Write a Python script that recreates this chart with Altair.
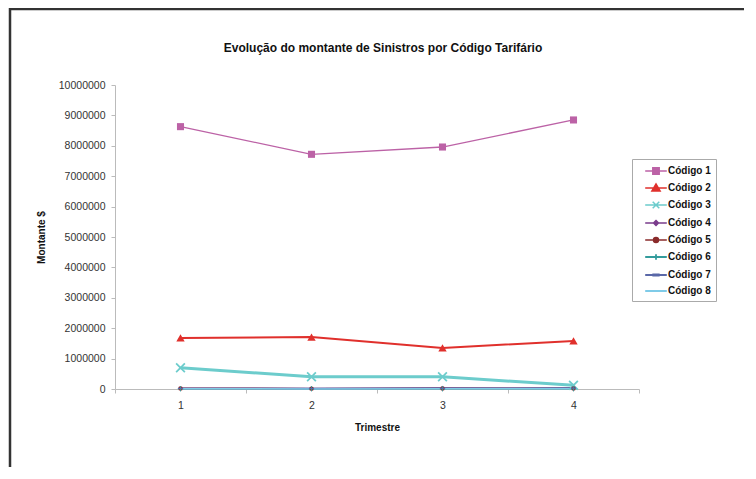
import altair as alt
import pandas as pd

trimestres = ["1", "2", "3", "4"]
codigos = ["Código 1", "Código 2", "Código 3", "Código 4",
           "Código 5", "Código 6", "Código 7", "Código 8"]

cod1 = [8630000, 7720000, 7960000, 8850000]
cod2 = [1680000, 1710000, 1350000, 1580000]
cod3 = [700000, 400000, 400000, 120000]
cod4 = [25000, 20000, 30000, 22000]
cod5 = [15000, 12000, 18000, 14000]
cod6 = [8000, 6000, 9000, 7000]
cod7 = [20000, 18000, 25000, 30000]
cod8 = [5000, 4000, 6000, 5000]
series = [cod1, cod2, cod3, cod4, cod5, cod6, cod7, cod8]

y_ticks = [0, 1000000, 2000000, 3000000, 4000000, 5000000,
           6000000, 7000000, 8000000, 9000000, 10000000]

colors = ["#BC62A6", "#E0302C", "#6CCCCC", "#7A3C8C",
          "#8A2B2B", "#339C9C", "#5A68A8", "#7FCBE8"]
widths = [1.3, 2, 3, 1.5, 1.5, 1.5, 1.5, 1.5]

X_PATH = ("M-1,-0.75L-0.75,-1L0,-0.25L0.75,-1L1,-0.75L0.25,0L1,0.75L0.75,1"
          "L0,0.25L-0.75,1L-1,0.75L-0.25,0Z")
PLUS_PATH = ("M-1,-0.15L-0.15,-0.15L-0.15,-1L0.15,-1L0.15,-0.15L1,-0.15L1,0.15"
             "L0.15,0.15L0.15,1L-0.15,1L-0.15,0.15L-1,0.15Z")
DASH_PATH = "M-1,-0.25L1,-0.25L1,0.25L-1,0.25Z"
marker_shapes = ["square", "triangle-up", X_PATH, "diamond", "circle", PLUS_PATH, DASH_PATH, None]
marker_sizes = [50, 70, 100, 20, 20, 30, 25, 0]

LINE = "M-1.8,0L1.8,0"
legend_paths = [
    LINE + "M-0.55,-0.55L0.55,-0.55L0.55,0.55L-0.55,0.55Z",
    LINE + "M0,-0.7L0.7,0.5L-0.7,0.5Z",
    LINE + "M-0.55,-0.55L0.55,0.55M-0.55,0.55L0.55,-0.55",
    LINE + "M0,-0.4L0.4,0L0,0.4L-0.4,0Z",
    LINE + "M-0.4,0A0.4,0.4,0,1,0,0.4,0A0.4,0.4,0,1,0,-0.4,0Z",
    LINE + "M0,-0.45L0,0.45",
    LINE + "M-0.45,-0.1L0.45,-0.1L0.45,0.1L-0.45,0.1Z",
    LINE,
]

rows = []
for c, vals in zip(codigos, series):
    for t, v in zip(trimestres, vals):
        rows.append({"Serie": c, "Trimestre": t, "Montante": v})
df = pd.DataFrame(rows)

FONT = "Liberation Sans"

x_enc = alt.X(
    "Trimestre:O", sort=trimestres, bandPosition=0.5,
    scale=alt.Scale(type="band", paddingInner=0, paddingOuter=0),
    axis=alt.Axis(labelAngle=0, tickBand="extent", tickSize=4, labelPadding=7,
                  titlePadding=12, labelFontSize=10.5, titleFontSize=10,
                  titleFontWeight="bold"),
    title="Trimestre",
)
y_enc = alt.Y(
    "Montante:Q",
    scale=alt.Scale(domain=[0, 10000000], nice=False),
    axis=alt.Axis(values=y_ticks, format="d", tickSize=4, labelPadding=6,
                  titlePadding=12, labelFontSize=10.5, titleFontSize=10,
                  titleFontWeight="bold"),
    title="Montante $",
)

base = alt.Chart(df)

lines = []
markers = []
for c, col, w, shp, sz in zip(codigos, colors, widths, marker_shapes, marker_sizes):
    sub = base.transform_filter(alt.datum.Serie == c)
    lines.append(sub.mark_line(color=col, strokeWidth=w).encode(x=x_enc, y=y_enc))
    if shp is not None:
        markers.append(
            sub.mark_point(filled=True, shape=shp, size=sz, color=col, opacity=1)
            .encode(x=x_enc, y=y_enc)
        )

leg = alt.Legend(
    title=None, orient="none", legendX=517, legendY=74, direction="vertical",
    strokeColor="#AAAAAA", fillColor="white", padding=5, rowPadding=4,
    labelFont=FONT, labelFontSize=10, labelFontWeight="bold", labelColor="#111",
    symbolSize=144, symbolStrokeWidth=1.5, labelOffset=5, symbolOffset=12,
    symbolOpacity=1,
    labelExpr="datum.label + '\u2003\u2003\u2003'",
)
legend_layer = base.mark_point(filled=True, opacity=0).encode(
    x=x_enc, y=y_enc,
    fill=alt.Fill("Serie:N", scale=alt.Scale(domain=codigos, range=colors), legend=leg),
    stroke=alt.Stroke("Serie:N", scale=alt.Scale(domain=codigos, range=colors), legend=leg),
    shape=alt.Shape("Serie:N", scale=alt.Scale(domain=codigos, range=legend_paths), legend=leg),
    strokeWidth=alt.StrokeWidth("Serie:N", scale=alt.Scale(domain=codigos, range=widths), legend=leg),
)

frame_df = pd.DataFrame({"k": [0]})
frame_left = alt.Chart(frame_df).mark_rule(color="#333333", strokeWidth=2.5).encode(
    x=alt.value(-105), y=alt.value(-78), y2=alt.value(420))
frame_top = alt.Chart(frame_df).mark_rule(color="#333333", strokeWidth=2.5).encode(
    x=alt.value(-106), x2=alt.value(640), y=alt.value(-76))

chart = alt.layer(frame_left, frame_top, *lines, *markers, legend_layer).properties(
    width=524, height=304,
    autosize=alt.AutoSizeParams(type="none"),
    padding={"left": 107, "top": 77, "right": 105, "bottom": 78},
    title=alt.TitleParams(
        "Evolução do montante de Sinistros por Código Tarifário",
        font=FONT, fontSize=12, fontWeight="bold", color="#111", offset=-49, dx=6,
        frame="group",
    ),
).configure_view(stroke=None).configure_axis(
    labelFont=FONT, titleFont=FONT, labelColor="#333", titleColor="#111",
    domainColor="#BBBBBB", tickColor="#BBBBBB", grid=False,
)

chart.save("out.html", embed_options={"renderer": "svg", "actions": False})
